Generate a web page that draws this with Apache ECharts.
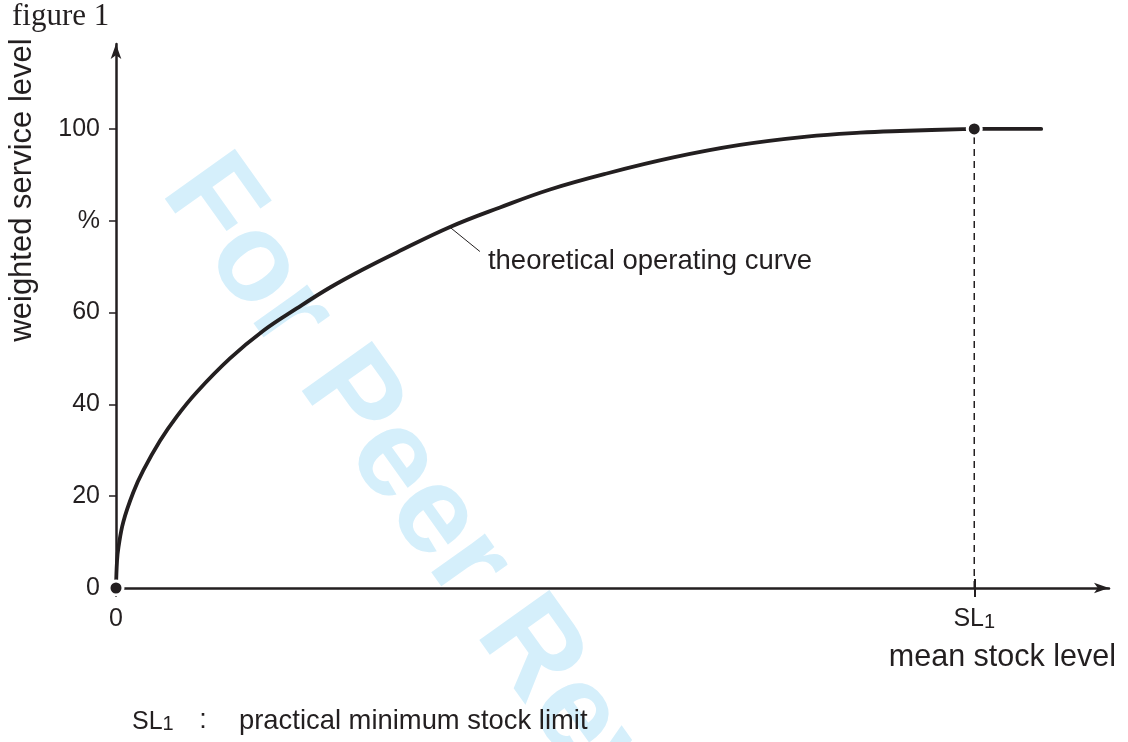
<!DOCTYPE html>
<html>
<head>
<meta charset="utf-8">
<script src="https://cdn.jsdelivr.net/npm/echarts@6.0.0/dist/echarts.min.js"></script>
<style>
html,body{margin:0;padding:0;background:#ffffff;}
#chart{width:1128px;height:742px;}
</style>
</head>
<body>
<div id="chart"></div>
<script>
// ---- data ----
const stockLevel   = [0, 0.12, 0.29, 0.85, 2.02, 3.18, 5.13, 7.07, 9.40, 13.28, 17.16, 21.06, 24.94, 28.82, 32.71, 38.92, 44.74, 50.57, 57.18, 64.94, 72.71, 80.48, 86.69, 91.35, 98.69, 100, 107.8];
const serviceLevel = [0, 5.9, 8.9, 14.4, 20.85, 25.6, 32.06, 37.34, 42.65, 50.01, 56.05, 60.91, 65.46, 69.44, 73.1, 78.64, 82.9, 86.81, 90.29, 93.78, 96.5, 98.31, 99.18, 99.55, 99.95, 100, 100];
const yTickValues  = [0, 20, 40, 60, 80, 100];
const yTickLabels  = ['0', '20', '40', '60', '%', '100'];
const xTickValues  = [0, 100];
const xTickLabels  = ['0', 'SL1'];
const markedX      = [0, 100];
const markedY      = [0, 100];
const leaderX      = [38.9, 42.4];
const leaderY      = [78.6, 73.3];
const sl1Value     = 100;
const curveLabel   = 'theoretical operating curve';
const figureTitle  = 'figure 1';
const yAxisName    = 'weighted service level';
const xAxisName    = 'mean stock level';
const footSymbol   = 'SL1';
const footText     = 'practical minimum stock limit';
const watermark    = 'For Peer Review';

// ---- styling ----
const INK = '#231f20';
const SANS = 'Liberation Sans, Arial, Helvetica, sans-serif';
const SERIF = 'Liberation Serif, Times New Roman, serif';

function subscriptRich(t) {
  return t.replace(/^([A-Za-z]+)(\d+)$/, '{a|$1}{b|$2}');
}
const subRich = (size) => ({
  a: {fontSize: size, lineHeight: size, fontFamily: SANS, color: INK},
  b: {fontSize: Math.round(size * 0.78), lineHeight: 10, verticalAlign: 'bottom', fontFamily: SANS, color: INK}
});

const chart = echarts.init(document.getElementById('chart'), null, {renderer: 'canvas'});

const curveData  = stockLevel.map((x, i) => [x, serviceLevel[i]]);
const markedData = markedX.map((x, i) => [x, markedY[i]]);
const leaderData = leaderX.map((x, i) => [x, leaderY[i]]);
const dropData   = [[sl1Value, 0], [sl1Value, 100]];

const wmAngle = -54.5 * Math.PI / 180;

const option = {
  animation: false,
  backgroundColor: '#ffffff',
  grid: {left: 116, right: 19, top: 44, bottom: 154, containLabel: false, outerBoundsMode: 'none'},
  xAxis: [{
    type: 'value', min: 0, max: 115.7,
    splitLine: {show: false},
    axisLine: {show: true, onZero: false, symbol: ['none', 'arrow'], symbolSize: [8, 15],
               lineStyle: {color: INK, width: 2.5}},
    axisTick: {show: true, customValues: xTickValues, length: 9, lineStyle: {color: INK, width: 2}},
    axisLabel: {
      show: true, customValues: xTickValues, margin: 19,
      formatter: v => subscriptRich(xTickLabels[xTickValues.indexOf(v)]),
      color: INK, fontSize: 25, lineHeight: 25, fontFamily: SANS,
      rich: subRich(25)
    }
  }, {
    type: 'value', min: 0, max: 115.7, position: 'bottom',
    splitLine: {show: false},
    axisLine: {show: false},
    axisTick: {show: true, inside: true, customValues: [sl1Value], length: 9, lineStyle: {color: INK, width: 2}},
    axisLabel: {show: false}
  }],
  yAxis: {
    type: 'value', min: 0, max: 118.5, interval: 20,
    splitLine: {show: false},
    axisLine: {show: true, onZero: false, symbol: ['none', 'arrow'], symbolSize: [8, 15],
               lineStyle: {color: INK, width: 2.5}},
    axisTick: {show: true, customValues: yTickValues, length: 7, lineStyle: {color: INK, width: 1.5}},
    axisLabel: {
      show: true, customValues: yTickValues, margin: 16,
      formatter: v => yTickLabels[yTickValues.indexOf(v)],
      color: INK, fontSize: 25, fontFamily: SANS
    }
  },
  series: [
    {
      name: 'drop', type: 'line', data: dropData, showSymbol: false, silent: true, z: 2,
      lineStyle: {color: INK, width: 1.5, type: [7, 5]}
    },
    {
      name: 'curve', type: 'line', data: curveData, showSymbol: false, silent: true, z: 3,
      smooth: 0.4,
      lineStyle: {color: INK, width: 3.8, cap: 'round', join: 'round'}
    },
    {
      name: 'leader', type: 'line', data: leaderData, showSymbol: false, silent: true, z: 3,
      lineStyle: {color: INK, width: 1},
      endLabel: {show: true, formatter: curveLabel, color: INK, fontSize: 27.5, fontFamily: SANS,
                 distance: 8, offset: [0, 10]}
    },
    {
      name: 'marks', type: 'scatter', data: markedData, symbol: 'circle', symbolSize: 14, silent: true, z: 5,
      itemStyle: {color: INK, borderColor: '#ffffff', borderWidth: 3, opacity: 1}
    }
  ],
  graphic: [
    {
      type: 'text', z: -1, x: 188, y: 172, rotation: wmAngle, silent: true,
      style: {text: watermark, x: 0, y: 0, align: 'left', verticalAlign: 'middle',
              fill: '#d5effb', font: 'bold 125px ' + SANS}
    },
    {
      type: 'text', z: 10, x: 12, y: 17, silent: true,
      style: {text: figureTitle, align: 'left', verticalAlign: 'middle', fill: INK, font: '31px ' + SERIF}
    },
    {
      type: 'text', z: 10, x: 22, y: 190, rotation: Math.PI / 2, silent: true,
      style: {text: yAxisName, align: 'center', verticalAlign: 'middle', fill: INK, font: '31px ' + SANS}
    },
    {
      type: 'text', z: 10, x: 1116, y: 658, silent: true,
      style: {text: xAxisName, align: 'right', verticalAlign: 'middle', fill: INK, font: '30.5px ' + SANS}
    },
    {
      type: 'text', z: 10, x: 132, y: 722, silent: true,
      style: {text: subscriptRich(footSymbol), align: 'left', verticalAlign: 'middle', rich: subRich(25),
              fill: INK, font: '25px ' + SANS}
    },
    {
      type: 'text', z: 10, x: 203, y: 721, silent: true,
      style: {text: ':', align: 'center', verticalAlign: 'middle', fill: INK, font: '27px ' + SANS}
    },
    {
      type: 'text', z: 10, x: 239, y: 721, silent: true,
      style: {text: footText, align: 'left', verticalAlign: 'middle', fill: INK, font: '27.4px ' + SANS}
    }
  ]
};

chart.setOption(option);
</script>
</body>
</html>
